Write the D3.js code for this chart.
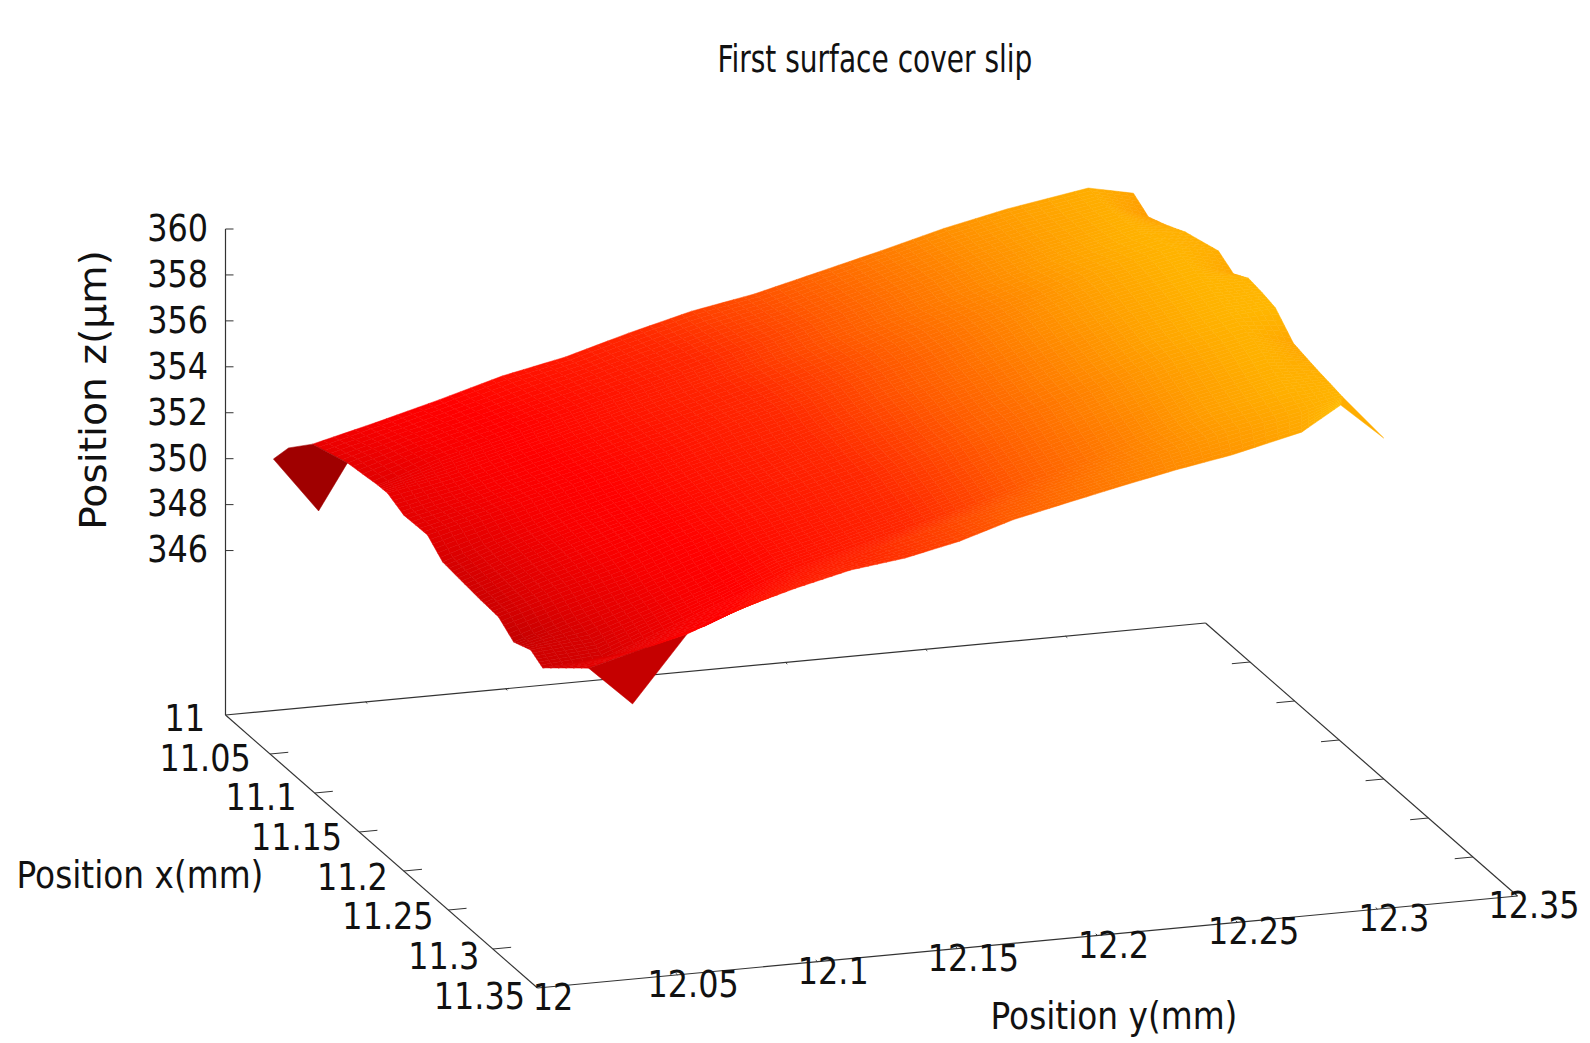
<!DOCTYPE html>
<html>
<head>
<meta charset="utf-8">
<script src="https://cdn.jsdelivr.net/npm/d3@7"></script>
<style>
  html, body { margin: 0; background: #fff; }
  text { font-family: "DejaVu Sans Condensed", "DejaVu Sans", sans-serif; fill: #111; }
</style>
</head>
<body>
<svg id="chart" width="1590" height="1043"></svg>
<script>
// Tick labels
const xTicks = [11, 11.05, 11.1, 11.15, 11.2, 11.25, 11.3, 11.35];
const yTicks = [12, 12.05, 12.1, 12.15, 12.2, 12.25, 12.3, 12.35];
const zTicks = [346, 348, 350, 352, 354, 356, 358, 360];

// Scan lines: x of each line, where it starts and stops in y
const scanX = [11.02, 11.041, 11.063, 11.084, 11.106, 11.127, 11.149, 11.17, 11.191, 11.213, 11.234, 11.256, 11.277, 11.299, 11.32];
const scanYStart = [12.0247, 12.0305, 12.0343, 12.0311, 12.0299, 12.0317, 12.0301, 12.0302, 12.0303, 12.0297, 12.0284, 12.0275, 12.0251, 12.0345, 12.0435];
const scanYEnd = [12.3179, 12.3166, 12.316, 12.3161, 12.3209, 12.3196, 12.3179, 12.3163, 12.3142, 12.3136, 12.3113, 12.3085, 12.3065, 12.3038, 12.2964];
// Sample position along a scan line, as a share of its length
const sampleAt = [0, 0.077, 0.154, 0.231, 0.308, 0.385, 0.462, 0.538, 0.615, 0.692, 0.769, 0.846, 0.945, 1];

// Measured z (um), one line per scan
const surfaceZ = [
  [351.03, 351.71, 352.44, 353.22, 353.79, 354.57, 355.27, 355.76, 356.44, 357.12, 357.84, 358.43, 359.01, 358.6],
  [350.86, 351.6, 352.3, 353.0, 353.7, 354.4, 355.1, 355.7, 356.4, 357.1, 357.8, 358.4, 359.0, 358.29],
  [350.6, 351.5, 352.2, 352.9, 353.6, 354.3, 355.0, 355.7, 356.4, 357.1, 357.8, 358.4, 359.1, 358.69],
  [351.0, 351.5, 352.2, 352.9, 353.6, 354.3, 355.0, 355.7, 356.4, 357.1, 357.8, 358.5, 359.2, 359.1],
  [350.8, 351.4, 352.1, 352.8, 353.5, 354.2, 354.9, 355.6, 356.4, 357.1, 357.8, 358.6, 359.3, 358.97],
  [350.63, 351.3, 352.0, 352.7, 353.4, 354.2, 354.9, 355.6, 356.3, 357.1, 357.9, 358.6, 359.3, 358.7],
  [350.22, 351.1, 351.9, 352.6, 353.4, 354.1, 354.8, 355.6, 356.3, 357.1, 357.9, 358.6, 359.3, 359.28],
  [350.1, 351.0, 351.8, 352.5, 353.3, 354.0, 354.8, 355.5, 356.3, 357.0, 357.8, 358.6, 359.3, 359.36],
  [349.99, 350.9, 351.7, 352.5, 353.2, 354.0, 354.7, 355.4, 356.2, 357.0, 357.8, 358.6, 359.3, 359.45],
  [350.0, 350.8, 351.5, 352.4, 353.2, 353.9, 354.6, 355.4, 356.2, 356.9, 357.7, 358.5, 359.2, 358.67],
  [349.64, 350.5, 351.3, 352.2, 353.1, 353.8, 354.6, 355.3, 356.1, 356.9, 357.7, 358.4, 359.2, 358.81],
  [350.05, 350.3, 351.2, 352.1, 353.1, 353.8, 354.5, 355.3, 356.1, 356.8, 357.6, 358.4, 359.1, 359.02],
  [350.01, 350.2, 351.2, 352.2, 353.2, 353.9, 354.6, 355.3, 356.1, 356.8, 357.6, 358.4, 359.1, 359.15],
  [350.64, 351.3, 352.0, 353.2, 354.0, 354.7, 355.3, 355.9, 356.5, 357.1, 357.7, 358.3, 358.9, 359.36],
  [349.69, 352.51, 353.42, 354.07, 354.63, 354.93, 355.44, 356.16, 356.68, 357.19, 357.67, 358.08, 358.79, 359.81]
];

// Stray samples outside the regular scan: the dark back corner and the far spike
const backCornerX = [11, 11, 11.03];
const backCornerY = [12.0171, 12.0225, 12.0237];
const backCornerZ = [349.79, 350.21, 348.47];
const spikeX = [11.34];
const spikeY = [12.3054];
const spikeZ = [358.95];

// Palette, z to colour
const paletteZ = [348.5, 349.6, 350.6, 351.7, 352.4, 354.6, 356, 357, 358, 359, 359.5, 360];
const paletteColor = ['#a00000', '#c20000', '#e00000', '#f80000', '#ff0000', '#ff2800', '#ff5a00', '#ff7800', '#ff9400', '#ffae00', '#ffb800', '#ffc000'];

const color = d3.scaleLinear().domain(paletteZ).range(paletteColor).clamp(true);

// Orthographic view: screen position is the corner plus one offset per axis.
const CORNER = { sx: 225.5, sy: 715 };
const xRange = [11, 11.35], yRange = [12, 12.35];
const xToSx = d3.scaleLinear().domain(xRange).range([0, 312]);
const xToSy = d3.scaleLinear().domain(xRange).range([0, 273]);
const yToSx = d3.scaleLinear().domain(yRange).range([0, 980]);
const yToSy = d3.scaleLinear().domain(yRange).range([0, -92]);
const zToSy = d3.scaleLinear().domain([338.84, 360]).range([0, -486]);

const project = (x, y, z) => [
    CORNER.sx + xToSx(x) + yToSx(y),
    CORNER.sy + xToSy(x) + yToSy(y) + zToSy(z),
];
const ZFLOOR = zToSy.domain()[0];

const svg = d3.select('#chart');
const axes = svg.append('g').attr('stroke', '#333').attr('fill', 'none');
const surface = svg.append('g');
const labels = svg.append('g');
const lineOf = d3.line();

function axisLine(a, b, w) {
    axes.append('path').attr('d', lineOf([a, b])).attr('stroke-width', w || 1.2);
}

// Base frame and z axis
const floor = (x, y) => project(x, y, ZFLOOR);
axisLine(floor(11, 12), floor(11.35, 12));
axisLine(floor(11.35, 12), floor(11.35, 12.35));
axisLine(floor(11.35, 12.35), floor(11, 12.35));
axisLine(floor(11, 12.35), floor(11, 12));
axisLine(project(11, 12, ZFLOOR), project(11, 12, 360));

// Ticks: x ticks run along y on both sides, y ticks are tiny nubs on the far side
xTicks.slice(1, -1).forEach((x) => {
    axisLine(floor(x, 12), floor(x, 12.0065), 1);
    axisLine(floor(x, 12.35), floor(x, 12.3435), 1);
});
yTicks.slice(1, -1).forEach((y) => {
    axisLine(floor(11, y), floor(11.002, y), 1);
    axisLine(floor(11.35, y), floor(11.348, y), 1);
});
zTicks.forEach((z) => {
    const p = project(11, 12, z);
    axisLine(p, [p[0] + 8, p[1]], 1);
});

// Surface cells. Each cell is cut into small flat pieces so the colour runs smoothly.
const SUB = 6;
const node = (i, j) => {
    const y = d3.scaleLinear().domain([0, 1]).range([scanYStart[i], scanYEnd[i]])(sampleAt[j]);
    return project(scanX[i], y, surfaceZ[i][j]);
};
const mix = (a, b, t) => [a[0] + (b[0] - a[0]) * t, a[1] + (b[1] - a[1]) * t];
const pieces = [];
for (let i = 0; i < scanX.length - 1; i++) {
    for (let j = 0; j < sampleAt.length - 1; j++) {
        const p00 = node(i, j), p01 = node(i, j + 1), p10 = node(i + 1, j), p11 = node(i + 1, j + 1);
        const z00 = surfaceZ[i][j], z01 = surfaceZ[i][j + 1], z10 = surfaceZ[i + 1][j], z11 = surfaceZ[i + 1][j + 1];
        // The dip at the front corner keeps its lowest value, as one flat patch
        if (i === scanX.length - 2 && j === 0) {
            pieces.push({ pts: [p00, p01, p11, p10], z: Math.min(z00, z01, z10, z11) });
            continue;
        }
        const corner = (a, b) => {
            const top = mix(p00, p01, b), bot = mix(p10, p11, b);
            return mix(top, bot, a);
        };
        const zAt = (a, b) => {
            const top = z00 + (z01 - z00) * b, bot = z10 + (z11 - z10) * b;
            return top + (bot - top) * a;
        };
        for (let a = 0; a < SUB; a++) {
            for (let b = 0; b < SUB; b++) {
                pieces.push({
                    pts: [corner(a / SUB, b / SUB), corner(a / SUB, (b + 1) / SUB), corner((a + 1) / SUB, (b + 1) / SUB), corner((a + 1) / SUB, b / SUB)],
                    z: zAt((a + 0.5) / SUB, (b + 0.5) / SUB),
                });
            }
        }
    }
}

// Stray samples
const back = backCornerX.map((x, k) => project(x, backCornerY[k], backCornerZ[k]));
pieces.push({ pts: [back[0], back[1], node(0, 0), node(1, 0), back[2]], z: d3.min(backCornerZ) });
const spike = project(spikeX[0], spikeY[0], spikeZ[0]);
pieces.push({ pts: [node(13, 13), spike, node(14, 13)], z: spikeZ[0] });

surface.selectAll('path')
    .data(pieces)
    .enter().append('path')
    .attr('d', (d) => lineOf(d.pts) + 'Z')
    .attr('fill', (d) => color(d.z))
    .attr('stroke', (d) => color(d.z))
    .attr('stroke-width', 0.5)
    .attr('stroke-linejoin', 'round');

// Text is narrower than any installed face, so it gets squeezed sideways.
function label(str, x, y, size, anchor, squeeze, rotate) {
    labels.append('text')
        .attr('transform', `translate(${x},${y})` + (rotate ? ` rotate(${rotate})` : '') + ` scale(${squeeze},1)`)
        .attr('text-anchor', anchor)
        .attr('dominant-baseline', 'central')
        .attr('font-size', size)
        .text(str);
}

const TICK_SIZE = 37.5, TICK_SQUEEZE = 0.945;
zTicks.forEach((z) => label(z, 208, project(11, 12, z)[1] - 1, TICK_SIZE, 'end', TICK_SQUEEZE));

const xLabelX = d3.scaleLinear().domain(xRange).range([205, 525]);
const xLabelY = d3.scaleLinear().domain(xRange).range([718, 996]);
xTicks.forEach((x) => label(x, xLabelX(x), xLabelY(x), TICK_SIZE, 'end', TICK_SQUEEZE));

const yLabelX = d3.scaleLinear().domain(yRange).range([553, 1534]);
const yLabelY = d3.scaleLinear().domain(yRange).range([997, 905.5]);
yTicks.forEach((y) => label(y, yLabelX(y), yLabelY(y), TICK_SIZE, 'middle', TICK_SQUEEZE));

label('First surface cover slip', 875, 59, 37, 'middle', 0.842);
label('Position z(µm)', 93, 390, 37, 'middle', 1.18, -90);
label('Position x(mm)', 140, 875, 37, 'middle', 0.985);
label('Position y(mm)', 1114, 1016, 37, 'middle', 0.985);
</script>
</body>
</html>
